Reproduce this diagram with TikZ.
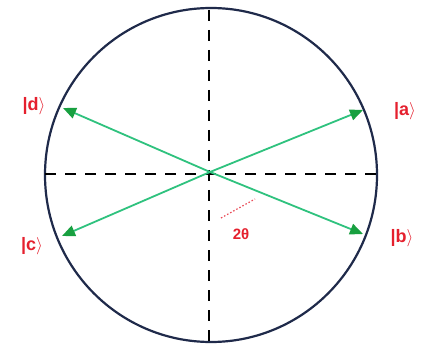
\documentclass[tikz,border=0pt]{standalone}
\usepackage{fontspec}
\setmainfont{Liberation Sans}
\usetikzlibrary{arrows.meta}
\definecolor{navy}{HTML}{1F2A4A}
\definecolor{grn}{HTML}{2FC27E}
\definecolor{grnhead}{HTML}{18A040}
\definecolor{redlab}{HTML}{E5202E}
\tikzset{
  ket/.style={text=redlab, font=\bfseries\fontsize{18}{18}\selectfont, inner sep=1pt},
  axis/.style={black, line width=1.4pt, dash pattern=on 11pt off 9pt},
  vec/.style={grn, line width=1.8pt, -{Triangle[length=13pt,width=11pt,fill=grnhead,color=grnhead]}},
}
\begin{document}
\begin{tikzpicture}[x=1pt,y=-1pt]
\useasboundingbox (0,0) rectangle (435,344);
\fill[white] (0,0) rectangle (435,344);
\coordinate (O) at (210,172);
\draw[navy, line width=2.2pt] (211,175) ellipse [x radius=166, y radius=167];
\coordinate (vt) at (209,10);
\coordinate (vb) at (209,342);
\coordinate (hl) at (45,174);
\coordinate (hr) at (377,174);
\draw[axis] (vt) -- (vb);
\draw[axis] (hl) -- (hr);
\coordinate (pd) at (63,108);
\coordinate (pa) at (363,110);
\coordinate (pc) at (62,236);
\coordinate (pb) at (363,234);
\draw[vec] (O) -- (pd);
\draw[vec] (O) -- (pa);
\draw[vec] (O) -- (pc);
\draw[vec] (O) -- (pb);
\node[ket] (ld) at (34,106) {|d$\rangle$};
\node[ket] (la) at (405,111) {|a$\rangle$};
\node[ket] (lc) at (32,246) {|c$\rangle$};
\node[ket] (lb) at (402,238) {|b$\rangle$};
\coordinate (t1) at (221,218);
\coordinate (t2) at (255,199);
\draw[redlab!80, line width=1.2pt, dash pattern=on 1.5pt off 2pt] (t1) -- (t2);
\node[text=redlab, font=\bfseries\fontsize{15}{15}\selectfont] (th) at (241,234) {2θ};
\end{tikzpicture}
\end{document}
